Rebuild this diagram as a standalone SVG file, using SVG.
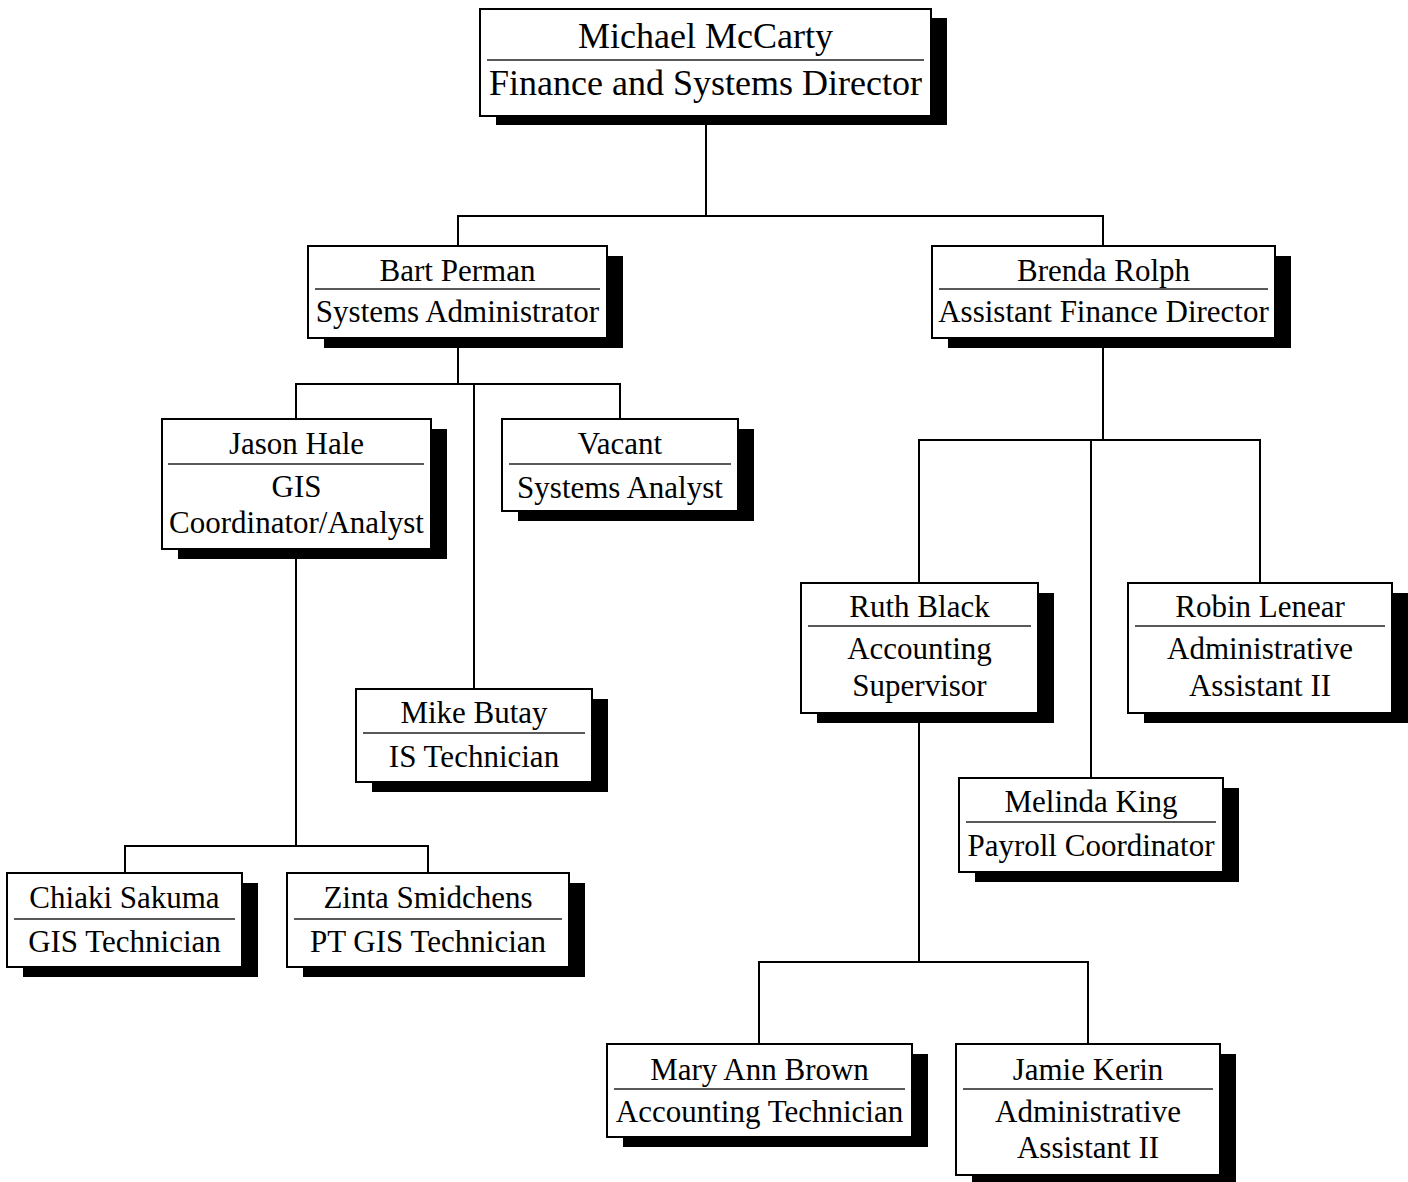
<svg xmlns="http://www.w3.org/2000/svg" width="1408" height="1182" viewBox="0 0 1408 1182">
  <style>
    .shadow { fill: #000; }
    .box { fill: #fff; stroke: #000; stroke-width: 2; }
    .rule { stroke: #222; stroke-width: 1.3; }
    .wire { fill: none; stroke: #000; stroke-width: 2; stroke-linecap: square; }
    text { font-family: "Liberation Serif", "Times New Roman", serif; font-size: 31px; fill: #000; text-anchor: middle; }
    .big { font-size: 36px; }
  </style>
  <rect width="1408" height="1182" fill="#fff"/>

  <!-- reporting lines -->
  <g id="connectors" class="wire">
    <path d="M706 116 V216 M458 216 H1103 M458 216 V246 M1103 216 V246"/>
    <path d="M458 338 V384 M296 384 H620 M296 384 V419 M620 384 V419 M474 384 V689"/>
    <path d="M296 549 V846 M125 846 H428 M125 846 V873 M428 846 V873"/>
    <path d="M1103 338 V440 M919 440 H1260 M919 440 V583 M1091 440 V778 M1260 440 V583"/>
    <path d="M919 713 V962 M759 962 H1088 M759 962 V1044 M1088 962 V1044"/>
  </g>

  <g id="mccarty">
    <rect class="shadow" x="496" y="18" width="451" height="107"/>
    <rect class="box" x="480" y="9" width="451" height="107"/>
    <line class="rule" x1="487" y1="60" x2="924" y2="60"/>
    <text class="big" x="705.5" y="48">Michael McCarty</text>
    <text class="big" x="705.5" y="95">Finance and Systems Director</text>
  </g>

  <g id="perman">
    <rect class="shadow" x="324" y="256" width="299" height="92"/>
    <rect class="box" x="308" y="246" width="299" height="92"/>
    <line class="rule" x1="315" y1="289" x2="600" y2="289"/>
    <text x="457.5" y="281">Bart Perman</text>
    <text x="457.5" y="322">Systems Administrator</text>
  </g>

  <g id="rolph">
    <rect class="shadow" x="948" y="256" width="343" height="92"/>
    <rect class="box" x="932" y="246" width="343" height="92"/>
    <line class="rule" x1="939" y1="289" x2="1268" y2="289"/>
    <text x="1103.5" y="281">Brenda Rolph</text>
    <text x="1103.5" y="322">Assistant Finance Director</text>
  </g>

  <g id="hale">
    <rect class="shadow" x="178" y="429" width="269" height="130"/>
    <rect class="box" x="162" y="419" width="269" height="130"/>
    <line class="rule" x1="168" y1="464" x2="424" y2="464"/>
    <text x="296.5" y="454">Jason Hale</text>
    <text x="296.5" y="497">GIS</text>
    <text x="296.5" y="533">Coordinator/Analyst</text>
  </g>

  <g id="vacant">
    <rect class="shadow" x="518" y="429" width="236" height="92"/>
    <rect class="box" x="502" y="419" width="236" height="92"/>
    <line class="rule" x1="509" y1="464" x2="731" y2="464"/>
    <text x="620" y="454">Vacant</text>
    <text x="620" y="498">Systems Analyst</text>
  </g>

  <g id="butay">
    <rect class="shadow" x="372" y="699" width="236" height="93"/>
    <rect class="box" x="356" y="689" width="236" height="93"/>
    <line class="rule" x1="363" y1="733" x2="585" y2="733"/>
    <text x="474" y="723">Mike Butay</text>
    <text x="474" y="767">IS Technician</text>
  </g>

  <g id="sakuma">
    <rect class="shadow" x="23" y="883" width="235" height="94"/>
    <rect class="box" x="7" y="873" width="235" height="94"/>
    <line class="rule" x1="14" y1="919" x2="235" y2="919"/>
    <text x="124.5" y="908">Chiaki Sakuma</text>
    <text x="124.5" y="952">GIS Technician</text>
  </g>

  <g id="smidchens">
    <rect class="shadow" x="303" y="883" width="282" height="94"/>
    <rect class="box" x="287" y="873" width="282" height="94"/>
    <line class="rule" x1="294" y1="919" x2="562" y2="919"/>
    <text x="428" y="908">Zinta Smidchens</text>
    <text x="428" y="952">PT GIS Technician</text>
  </g>

  <g id="black">
    <rect class="shadow" x="817" y="593" width="237" height="130"/>
    <rect class="box" x="801" y="583" width="237" height="130"/>
    <line class="rule" x1="808" y1="626" x2="1031" y2="626"/>
    <text x="919.5" y="617">Ruth Black</text>
    <text x="919.5" y="659">Accounting</text>
    <text x="919.5" y="696">Supervisor</text>
  </g>

  <g id="lenear">
    <rect class="shadow" x="1144" y="593" width="264" height="130"/>
    <rect class="box" x="1128" y="583" width="264" height="130"/>
    <line class="rule" x1="1135" y1="626" x2="1385" y2="626"/>
    <text x="1260" y="617">Robin Lenear</text>
    <text x="1260" y="659">Administrative</text>
    <text x="1260" y="696">Assistant II</text>
  </g>

  <g id="king">
    <rect class="shadow" x="975" y="788" width="264" height="94"/>
    <rect class="box" x="959" y="778" width="264" height="94"/>
    <line class="rule" x1="966" y1="822" x2="1216" y2="822"/>
    <text x="1091" y="812">Melinda King</text>
    <text x="1091" y="856">Payroll Coordinator</text>
  </g>

  <g id="brown">
    <rect class="shadow" x="623" y="1054" width="305" height="93"/>
    <rect class="box" x="607" y="1044" width="305" height="93"/>
    <line class="rule" x1="614" y1="1089" x2="905" y2="1089"/>
    <text x="759.5" y="1080">Mary Ann Brown</text>
    <text x="759.5" y="1122">Accounting Technician</text>
  </g>

  <g id="kerin">
    <rect class="shadow" x="972" y="1054" width="264" height="131"/>
    <rect class="box" x="956" y="1044" width="264" height="131"/>
    <line class="rule" x1="963" y1="1089" x2="1213" y2="1089"/>
    <text x="1088" y="1080">Jamie Kerin</text>
    <text x="1088" y="1122">Administrative</text>
    <text x="1088" y="1158">Assistant II</text>
  </g>
</svg>
